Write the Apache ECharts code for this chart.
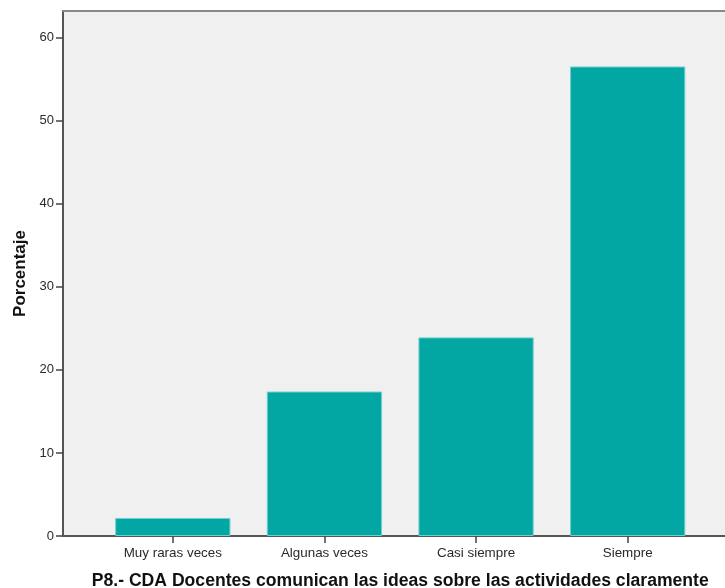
<!DOCTYPE html>
<html><head><meta charset="utf-8">
<script src="https://cdn.jsdelivr.net/npm/echarts@6/dist/echarts.min.js"></script>
<style>html,body{margin:0;padding:0;background:#fff}#c{width:725px;height:588px}</style>
</head><body><div id="c"></div>
<script>
const categories = ['Muy raras veces', 'Algunas veces', 'Casi siempre', 'Siempre'];
const percentages = [2.17, 17.39, 23.91, 56.52];
const yTicks = [0, 10, 20, 30, 40, 50, 60];
const yMax = 63.2;
const xTitle = 'P8.- CDA Docentes comunican las ideas sobre las actividades claramente';
const yTitle = 'Porcentaje';

const chart = echarts.init(document.getElementById('c'), null, {renderer: 'canvas'});
const font = 'Liberation Sans, Arial, sans-serif';
chart.setOption({
  animation: false,
  grid: [
    {left: 63, right: -20, top: 11, bottom: 52, show: true, backgroundColor: '#f0f0f0', borderWidth: 0,
     outerBoundsMode: 'none', containLabel: false},
    {left: 97, right: 21.5, top: 11, bottom: 52, outerBoundsMode: 'none', containLabel: false}
  ],
  xAxis: [
    {gridIndex: 0, type: 'value', min: 0, max: 1, position: 'bottom',
     axisLine: {show: true, onZero: false, lineStyle: {color: '#555', width: 2}},
     axisTick: {show: false}, axisLabel: {show: false}, splitLine: {show: false}},
    {gridIndex: 0, type: 'value', min: 0, max: 1, position: 'top',
     axisLine: {show: true, onZero: false, lineStyle: {color: '#888', width: 2}},
     axisTick: {show: false}, axisLabel: {show: false}, splitLine: {show: false}},
    {gridIndex: 1, type: 'category', data: categories,
     axisLine: {show: false},
     axisTick: {show: true, alignWithLabel: true, length: 7, lineStyle: {color: '#444', width: 1.5}},
     axisLabel: {color: '#2a2a2a', fontFamily: font, fontSize: 13.4, margin: 11},
     name: xTitle, nameLocation: 'middle', nameGap: 36,
     nameTextStyle: {color: '#111', fontFamily: font, fontSize: 17.6, fontWeight: 'bold'}}
  ],
  yAxis: [
    {gridIndex: 0, type: 'value', min: 0, max: yMax, interval: 10,
     axisLine: {show: true, lineStyle: {color: '#555', width: 2}},
     axisTick: {show: true, length: 7, lineStyle: {color: '#444', width: 1.5},
       customValues: yTicks},
     axisLabel: {color: '#2a2a2a', fontFamily: font, fontSize: 13, margin: 9, customValues: yTicks},
     splitLine: {show: false},
     name: yTitle, nameLocation: 'middle', nameGap: 33,
     nameTextStyle: {color: '#111', fontFamily: font, fontSize: 17, fontWeight: 'bold'}},
    {gridIndex: 1, type: 'value', min: 0, max: yMax, show: false}
  ],
  series: [{
    type: 'bar', xAxisIndex: 2, yAxisIndex: 1, data: percentages,
    barWidth: '76%',
    itemStyle: {color: '#02a6a2', borderColor: '#6fcfcc', borderWidth: 1}
  }]
});
</script></body></html>
